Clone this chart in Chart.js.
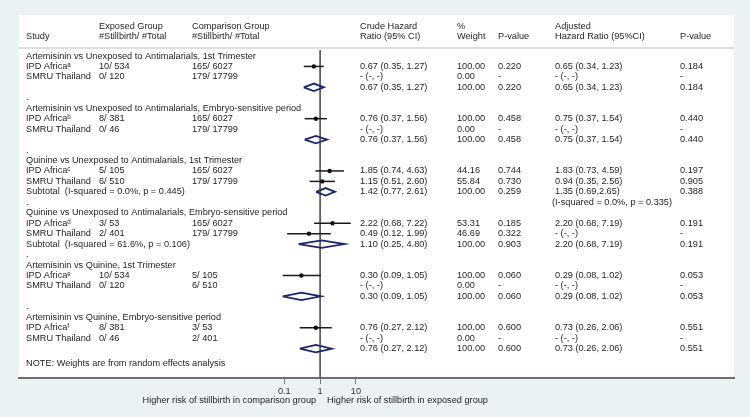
<!DOCTYPE html>
<html>
<head>
<meta charset="utf-8">
<title>Stillbirth hazard ratios</title>
<script src="https://cdn.jsdelivr.net/npm/chart.js@4.4.1/dist/chart.umd.min.js"></script>
<style>
  html, body { margin: 0; padding: 0; background: #eaf2f3; }
  canvas { display: block; }
</style>
</head>
<body>
<canvas id="forestChart" width="750" height="417"></canvas>
<script>
// Table data
const groupTitles = [
    'Artemisinin vs Unexposed to Antimalarials, 1st Trimester',
    'Artemisinin vs Unexposed to Antimalarials, Embryo-sensitive period',
    'Quinine vs Unexposed to Antimalarials, 1st Trimester',
    'Quinine vs Unexposed to Antimalarials, Embryo-sensitive period',
    'Artemisinin vs Quinine, 1st Trimester',
    'Artemisinin vs Quinine, Embryo-sensitive period'
];

// two studies per group
const studyNames = ['IPD Africaᵃ', 'SMRU Thailand', 'IPD Africaᵇ', 'SMRU Thailand', 'IPD Africaᶜ', 'SMRU Thailand',
    'IPD Africaᵈ', 'SMRU Thailand', 'IPD Africaᵉ', 'SMRU Thailand', 'IPD Africaᶠ', 'SMRU Thailand'];
const exposedCounts = ['10/ 534', '0/ 120', '8/ 381', '0/ 46', '5/ 105', '6/ 510',
    '3/ 53', '2/ 401', '10/ 534', '0/ 120', '8/ 381', '0/ 46'];
const comparisonCounts = ['165/ 6027', '179/ 17799', '165/ 6027', '179/ 17799', '165/ 6027', '179/ 17799',
    '165/ 6027', '179/ 17799', '5/ 105', '6/ 510', '3/ 53', '2/ 401'];
const studyHR = [0.67, null, 0.76, null, 1.85, 1.15, 2.22, 0.49, 0.30, null, 0.76, null];
const studyLow = [0.35, null, 0.37, null, 0.74, 0.51, 0.68, 0.12, 0.09, null, 0.27, null];
const studyHigh = [1.27, null, 1.56, null, 4.63, 2.60, 7.22, 1.99, 1.05, null, 2.12, null];
const studyWeight = ['100.00', '0.00', '100.00', '0.00', '44.16', '55.84', '53.31', '46.69', '100.00', '0.00', '100.00', '0.00'];
const studyP = ['0.220', '-', '0.458', '-', '0.744', '0.730', '0.185', '0.322', '0.060', '-', '0.600', '-'];
const studyAdjHR = ['0.65 (0.34, 1.23)', '- (-, -)', '0.75 (0.37, 1.54)', '- (-, -)', '1.83 (0.73, 4.59)', '0.94 (0.35, 2.56)',
    '2.20 (0.68, 7.19)', '- (-, -)', '0.29 (0.08, 1.02)', '- (-, -)', '0.73 (0.26, 2.06)', '- (-, -)'];
const studyAdjP = ['0.184', '-', '0.440', '-', '0.197', '0.905', '0.191', '-', '0.053', '-', '0.551', '-'];

// pooled estimate per group
const pooledLabels = ['', '', 'Subtotal  (I-squared = 0.0%, p = 0.445)', 'Subtotal  (I-squared = 61.6%, p = 0.106)', '', ''];
const pooledHR = [0.67, 0.76, 1.42, 1.10, 0.30, 0.76];
const pooledLow = [0.35, 0.37, 0.77, 0.25, 0.09, 0.27];
const pooledHigh = [1.27, 1.56, 2.61, 4.80, 1.05, 2.12];
const pooledWeight = ['100.00', '100.00', '100.00', '100.00', '100.00', '100.00'];
const pooledP = ['0.220', '0.458', '0.259', '0.903', '0.060', '0.600'];
const pooledAdjHR = ['0.65 (0.34, 1.23)', '0.75 (0.37, 1.54)', '1.35 (0.69,2.65)', '2.20 (0.68, 7.19)', '0.29 (0.08, 1.02)', '0.73 (0.26, 2.06)'];
const pooledAdjP = ['0.184', '0.440', '0.388', '0.191', '0.053', '0.551'];
const adjHeterogeneity = ['', '', '(I-squared = 0.0%, p = 0.335)', '', '', ''];

const headerLines = [
    ['', 'Study'],
    ['Exposed Group', '#Stillbirth/ #Total'],
    ['Comparison Group', '#Stillbirth/ #Total'],
    ['Crude Hazard', 'Ratio (95% CI)'],
    ['%', 'Weight'],
    ['', 'P-value'],
    ['Adjusted', 'Hazard Ratio (95%CI)'],
    ['', 'P-value']
];
const noteText = 'NOTE: Weights are from random effects analysis';
const axisLeftText = 'Higher risk of stillbirth in comparison group';
const axisRightText = 'Higher risk of stillbirth in exposed group';
const xTicks = [0.1, 1, 10];

// Layout
const FONT = "'Liberation Sans', Arial, 'DejaVu Sans', sans-serif";
const TEXT_SIZE = 9.2;
const TEXT_COLOR = '#1e1e1e';
const COLS = [26, 99, 192, 360, 457, 498, 555, 680]; // left edge of each text column
const HEAD_ROWS = [-2.87, -1.85];
const DIVIDER_ROW = -0.77;
const NOTE_ROW = 29.4;
const Y_MIN = -3.92, Y_MAX = 30.81;
const DIAMOND_H = 0.36;

const titleRow = g => g * 5;
const studyRow = i => Math.floor(i / 2) * 5 + 1 + (i % 2);
const pooledRow = g => g * 5 + 3;
const gapRow = g => g * 5 + 4;

// CI lines
const ciSets = [];
studyHR.forEach((hr, i) => {
    if (hr === null) return;
    ciSets.push({
        data: [{ x: studyLow[i], y: studyRow(i) }, { x: studyHigh[i], y: studyRow(i) }],
        showLine: true,
        borderColor: '#1a1a1a',
        borderWidth: 1.5,
        pointRadius: 0,
        order: 2
    });
});

// Pooled diamonds
const diamondSets = pooledHR.map((hr, g) => {
    const r = pooledRow(g);
    return {
        data: [
            { x: pooledLow[g], y: r }, { x: hr, y: r - DIAMOND_H },
            { x: pooledHigh[g], y: r }, { x: hr, y: r + DIAMOND_H },
            { x: pooledLow[g], y: r }
        ],
        showLine: true,
        borderColor: '#1c2570',
        borderWidth: 1.8,
        borderJoinStyle: 'miter',
        pointRadius: 0,
        order: 1
    };
});

// Point estimates
const pointSet = {
    data: studyHR.map((hr, i) => hr === null ? null : { x: hr, y: studyRow(i) }).filter(p => p),
    showLine: false,
    pointRadius: 2.2,
    pointBackgroundColor: '#111',
    pointBorderWidth: 0,
    order: 0
};

// Line of no effect
const nullLine = {
    data: [{ x: 1, y: -0.57 }, { x: 1, y: Y_MAX }],
    showLine: true,
    borderColor: '#4d4d4d',
    borderWidth: 1.6,
    pointRadius: 0,
    order: 3
};

const tablePlugin = {
    id: 'forestTable',
    beforeDraw(chart) {
        const { ctx, chartArea } = chart;
        ctx.save();
        ctx.fillStyle = '#eaf2f3';
        ctx.fillRect(0, 0, chart.width, chart.height);
        ctx.fillStyle = '#ffffff';
        ctx.fillRect(chartArea.left, chartArea.top, chartArea.right - chartArea.left, chartArea.bottom - chartArea.top);
        const yDiv = chart.scales.y.getPixelForValue(DIVIDER_ROW);
        ctx.strokeStyle = '#cfd4d6';
        ctx.lineWidth = 1.5;
        ctx.beginPath();
        ctx.moveTo(chartArea.left, yDiv);
        ctx.lineTo(chartArea.right, yDiv);
        ctx.stroke();
        ctx.restore();
    },
    afterDraw(chart) {
        const { ctx, chartArea } = chart;
        const y = chart.scales.y;
        const x = chart.scales.x;
        ctx.save();
        ctx.font = TEXT_SIZE + 'px ' + FONT;
        ctx.fillStyle = TEXT_COLOR;
        ctx.textBaseline = 'middle';
        ctx.textAlign = 'left';
        const put = (str, col, row) => { if (str) ctx.fillText(str, COLS[col], y.getPixelForValue(row)); };

        headerLines.forEach((lines, c) => {
            put(lines[0], c, HEAD_ROWS[0]);
            put(lines[1], c, HEAD_ROWS[1]);
        });

        groupTitles.forEach((t, g) => {
            put(t, 0, titleRow(g));
            put(pooledLabels[g], 0, pooledRow(g));
            const hrText = pooledHR[g].toFixed(2) + ' (' + pooledLow[g].toFixed(2) + ', ' + pooledHigh[g].toFixed(2) + ')';
            put(hrText, 3, pooledRow(g));
            put(pooledWeight[g], 4, pooledRow(g));
            put(pooledP[g], 5, pooledRow(g));
            put(pooledAdjHR[g], 6, pooledRow(g));
            put(pooledAdjP[g], 7, pooledRow(g));
            if (g < groupTitles.length - 1) put('.', 0, gapRow(g));
            if (adjHeterogeneity[g]) ctx.fillText(adjHeterogeneity[g], 552, y.getPixelForValue(gapRow(g)));
        });

        studyNames.forEach((name, i) => {
            const r = studyRow(i);
            put(name, 0, r);
            put(exposedCounts[i], 1, r);
            put(comparisonCounts[i], 2, r);
            const hrText = studyHR[i] === null ? '- (-, -)'
                : studyHR[i].toFixed(2) + ' (' + studyLow[i].toFixed(2) + ', ' + studyHigh[i].toFixed(2) + ')';
            put(hrText, 3, r);
            put(studyWeight[i], 4, r);
            put(studyP[i], 5, r);
            put(studyAdjHR[i], 6, r);
            put(studyAdjP[i], 7, r);
        });

        put(noteText, 0, NOTE_ROW);

        // axis captions either side of the line of no effect
        const x1 = x.getPixelForValue(1);
        const yCap = chartArea.bottom + 22.5;
        ctx.textAlign = 'right';
        ctx.fillText(axisLeftText, x1 - 4, yCap);
        ctx.textAlign = 'left';
        ctx.fillText(axisRightText, x1 + 7, yCap);
        ctx.restore();
    }
};

Chart.defaults.font.family = FONT;
Chart.defaults.font.size = TEXT_SIZE;

new Chart(document.getElementById('forestChart').getContext('2d'), {
    type: 'scatter',
    data: { datasets: [pointSet, ...ciSets, ...diamondSets, nullLine] },
    options: {
        responsive: false,
        animation: false,
        layout: { padding: { left: 19, right: 16, top: 15, bottom: 0 } },
        plugins: { legend: { display: false }, tooltip: { enabled: false } },
        scales: {
            x: {
                type: 'logarithmic',
                min: Math.pow(10, -8.41),
                max: Math.pow(10, 11.56),
                afterBuildTicks: scale => { scale.ticks = xTicks.map(v => ({ value: v })); },
                afterFit: scale => { scale.height = 39; },
                ticks: {
                    callback: v => String(v),
                    color: '#333',
                    font: { size: TEXT_SIZE },
                    padding: 2,
                    autoSkip: false,
                    maxRotation: 0
                },
                grid: { drawOnChartArea: false, drawTicks: true, tickLength: 6, color: '#7a7a7a' },
                border: { display: true, color: '#6e6e6e', width: 2 }
            },
            y: {
                type: 'linear',
                reverse: true,
                min: Y_MIN,
                max: Y_MAX,
                display: false
            }
        }
    },
    plugins: [tablePlugin]
});
</script>
</body>
</html>
